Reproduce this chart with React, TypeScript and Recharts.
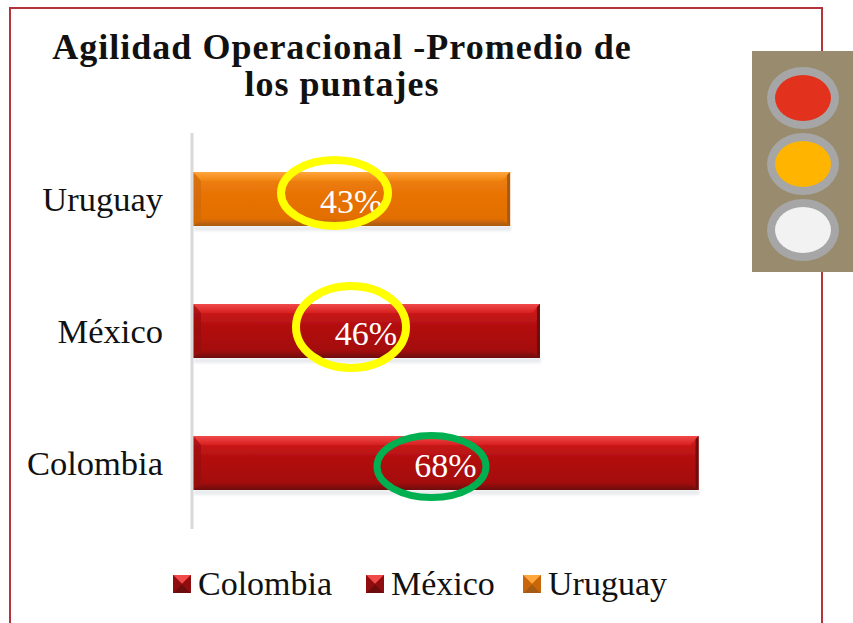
import { BarChart, Bar, XAxis, YAxis, Legend, LabelList } from 'recharts';

const categories = ['Colombia', 'México', 'Uruguay'];
const colombiaValues = [68, null, null];
const mexicoValues = [null, 46.7, null];
const uruguayValues = [null, null, 42.7];
const valueLabels = ['68%', '46%', '43%'];
const titleLines = ['Agilidad Operacional -Promedio de', 'los puntajes'];

const data = categories.map((name, i) => ({
  name,
  Colombia: colombiaValues[i],
  México: mexicoValues[i],
  Uruguay: uruguayValues[i],
  tag: valueLabels[i],
}));

const FONT = '"Liberation Serif", serif';

const RED = { id: 'red', light: '#f04a4a', top: '#d81f20', face: '#b30f10', low: '#a00d0e', bottom: '#6d0c0e', side: '#8f0d0f' };
const ORANGE = { id: 'orange', light: '#ffa63c', top: '#f08410', face: '#e87305', low: '#e06d04', bottom: '#a65a12', side: '#c9660a' };

function Gradients({ c }: { c: typeof RED }) {
  return (
    <>
      <linearGradient id={`${c.id}-face`} x1="0" y1="0" x2="0" y2="1">
        <stop offset="0" stopColor={c.top} />
        <stop offset="0.4" stopColor={c.face} />
        <stop offset="1" stopColor={c.low} />
      </linearGradient>
      <linearGradient id={`${c.id}-top`} x1="0" y1="0" x2="0" y2="1">
        <stop offset="0" stopColor={c.light} />
        <stop offset="1" stopColor={c.top} />
      </linearGradient>
      <linearGradient id={`${c.id}-bottom`} x1="0" y1="0" x2="0" y2="1">
        <stop offset="0" stopColor={c.low} />
        <stop offset="1" stopColor={c.bottom} />
      </linearGradient>
    </>
  );
}

// beveled bar like the office 3d style
function bevelShape(c: typeof RED) {
  return (props: any) => {
    const { x, y, width, height } = props;
    if (!width || !height) return <g />;
    const t = 9;
    const b = 7;
    const s = 8;
    const x1 = x + 1;
    const x2 = x + width;
    const y2 = y + height;
    return (
      <g>
        <rect x={x1 + 1} y={y2} width={width - 1} height={5} fill="#c9ced6" opacity={0.4} filter="url(#soft2)" />
        <g filter="url(#soft)">
          <rect x={x1} y={y} width={width - 1} height={height} fill={`url(#${c.id}-face)`} />
          <polygon points={`${x1},${y} ${x2},${y} ${x2 - s},${y + t} ${x1 + s},${y + t}`} fill={`url(#${c.id}-top)`} />
          <polygon points={`${x1},${y2} ${x2},${y2} ${x2 - s},${y2 - b} ${x1 + s},${y2 - b}`} fill={`url(#${c.id}-bottom)`} />
          <polygon points={`${x1},${y} ${x1 + s},${y + t} ${x1 + s},${y2 - b} ${x1},${y2}`} fill={c.side} opacity={0.55} />
          <polygon points={`${x2},${y} ${x2 - 3},${y + 3} ${x2 - 3},${y2 - 3} ${x2},${y2}`} fill={c.bottom} />
        </g>
      </g>
    );
  };
}

function renderTag(props: any) {
  const { x, y, width, height, value } = props;
  if (!width || !value) return null;
  return (
    <text x={x + width / 2} y={y + height / 2 + 14} textAnchor="middle" fill="#fff" fontSize={34} fontFamily={FONT}>
      {value}
    </text>
  );
}

function LegendIcon({ c }: { c: typeof RED }) {
  return (
    <svg width={18} height={18} style={{ display: 'block' }}>
      <rect width={18} height={18} fill={c.face} />
      <polygon points="0,0 18,0 9,9" fill={c.light} />
      <polygon points="0,18 18,18 9,9" fill={c.bottom} />
      <polygon points="0,0 0,18 9,9" fill={c.side} />
      <polygon points="18,0 18,18 9,9" fill={c.side} />
    </svg>
  );
}

function renderLegend() {
  const colors = [RED, RED, ORANGE];
  const itemWidths = [193, 157, 160];
  return (
    <div style={{ display: 'flex', position: 'absolute', left: 173, top: 564, fontFamily: FONT, fontSize: 34, lineHeight: '40px', color: '#111', whiteSpace: 'nowrap' }}>
      {categories.map((name, i) => (
        <div key={name} style={{ display: 'flex', alignItems: 'center', width: itemWidths[i] }}>
          <LegendIcon c={colors[i]} />
          <span style={{ marginLeft: 7 }}>{name}</span>
        </div>
      ))}
    </div>
  );
}

export default function App() {
  return (
    <div style={{ position: 'fixed', left: 0, top: 0, width: 853, height: 623, background: '#fff', overflow: 'hidden' }}>
      {/* frame */}
      <div style={{ position: 'absolute', left: 9, top: 7, width: 810, height: 640, border: '2px solid #b5333b' }} />

      <svg width={1} height={1} style={{ position: 'absolute', left: 0, top: 0 }}>
        <defs>
          <Gradients c={RED} />
          <Gradients c={ORANGE} />
          <filter id="soft" x="-2%" y="-10%" width="104%" height="120%">
            <feGaussianBlur stdDeviation="0.6" />
          </filter>
          <filter id="soft2" x="-2%" y="-60%" width="104%" height="220%">
            <feGaussianBlur stdDeviation="1.2" />
          </filter>
        </defs>
      </svg>

      <BarChart
        width={853}
        height={623}
        layout="vertical"
        data={data}
        barSize={54}
        margin={{ top: 133, right: 65, bottom: 94, left: 0 }}
        style={{ position: 'absolute', left: 0, top: 0 }}
      >
        <XAxis type="number" domain={[0, 80]} hide />
        <YAxis
          type="category"
          dataKey="name"
          reversed
          width={192}
          axisLine={{ stroke: '#d9d9d9', strokeWidth: 3 }}
          tickLine={false}
          tickMargin={23}
          tick={{ fontSize: 34.5, fontFamily: FONT, fill: '#111' }}
        />
        <Legend content={renderLegend} wrapperStyle={{ left: 0, top: 0, bottom: 'auto', width: 853 }} />
        <Bar dataKey="Colombia" stackId="a" shape={bevelShape(RED)} isAnimationActive={false}>
          <LabelList dataKey="tag" content={renderTag} />
        </Bar>
        <Bar dataKey="México" stackId="a" shape={bevelShape(RED)} isAnimationActive={false}>
          <LabelList dataKey="tag" content={renderTag} />
        </Bar>
        <Bar dataKey="Uruguay" stackId="a" shape={bevelShape(ORANGE)} isAnimationActive={false}>
          <LabelList dataKey="tag" content={renderTag} />
        </Bar>
      </BarChart>

      {/* title */}
      <div style={{ position: 'absolute', left: 2, top: 29, width: 680, textAlign: 'center', fontFamily: FONT, fontWeight: 'bold', fontSize: 36, letterSpacing: 1, lineHeight: '37px', color: '#111' }}>
        {titleLines.map((line) => (
          <div key={line}>{line}</div>
        ))}
      </div>

      {/* hand-drawn rings and traffic light */}
      <svg width={853} height={623} style={{ position: 'absolute', left: 0, top: 0, pointerEvents: 'none' }}>
        <ellipse cx={334.5} cy={193} rx={53.5} ry={33} fill="none" stroke="#ffff00" strokeWidth={8} />
        <ellipse cx={351} cy={327} rx={55} ry={41} fill="none" stroke="#ffff00" strokeWidth={8} />
        <ellipse cx={431.5} cy={466.5} rx={54.5} ry={31} fill="none" stroke="#00b050" strokeWidth={7} />

        <rect x={752} y={51} width={101} height={221} fill="#998b6d" />
        <ellipse cx={803} cy={98} rx={36} ry={31} fill="#a6a6a6" />
        <ellipse cx={803} cy={98} rx={28} ry={23} fill="#e2321d" />
        <ellipse cx={803} cy={164} rx={36} ry={31} fill="#a6a6a6" />
        <ellipse cx={803} cy={164} rx={28} ry={23} fill="#ffb400" />
        <ellipse cx={803} cy={230} rx={36} ry={31} fill="#a6a6a6" />
        <ellipse cx={803} cy={230} rx={28} ry={23} fill="#f2f2f2" />
      </svg>
    </div>
  );
}
